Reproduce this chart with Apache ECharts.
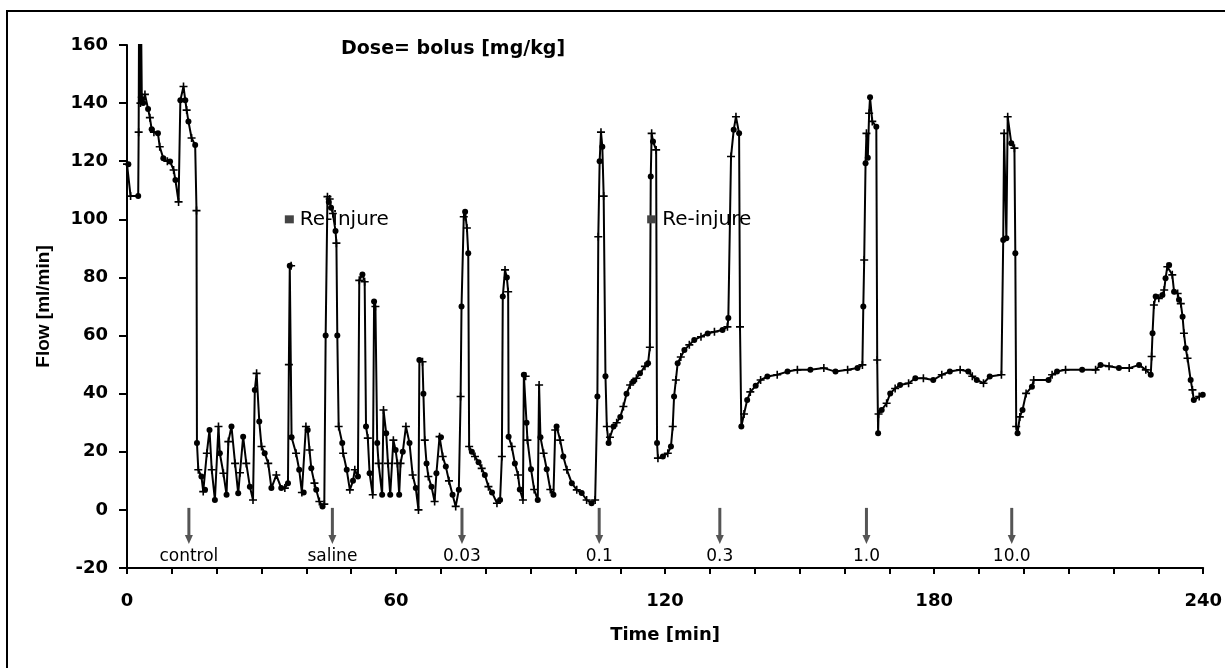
<!DOCTYPE html>
<html>
<head>
<meta charset="utf-8">
<script src="https://cdn.jsdelivr.net/npm/echarts@6/dist/echarts.min.js"></script>
<style>
html,body{margin:0;padding:0;background:#fff;}
#chart{width:1225px;height:668px;}
</style>
</head>
<body>
<div id="chart"></div>
<script>
// ---- Data ----
const times = [
0,0.3,0.8,2.5,2.6,2.7,3.0,3.1,3.3,3.6,4.0,4.7,5.1,5.5,6.0,6.9,7.3,8.1,9.0,9.6,10.4,10.8,11.5,11.9,12.6,13.0,13.3,13.7,14.4,15.2,15.5,15.6,15.9,16.6,17.0,17.4,17.8,18.4,18.9,19.6,20.4,20.7,21.5,22.2,22.6,23.3,24.1,24.8,25.2,25.9,26.6,27.4,28.1,28.5,28.9,29.5,30.0,30.7,31.5,32.2,33.3,34.4,35.2,35.9,36.1,36.3,36.6,36.7,37.7,38.4,39.0,39.4,39.9,40.3,40.7,41.1,41.8,42.2,42.9,43.6,44.0,44.3,44.7,45.0,45.2,45.5,45.9,46.5,46.7,46.9,47.2,48.0,48.2,49.0,49.7,50.4,50.8,51.5,51.8,52.5,53.0,53.3,53.7,54.1,54.8,55.1,55.4,55.8,56.1,56.9,57.2,57.8,58.2,58.7,59.4,59.9,60.3,60.7,61.0,61.5,62.2,63.0,63.7,64.4,65.0,65.2,65.9,66.1,66.4,66.8,67.2,67.9,68.6,69.0,69.7,70.0,70.4,71.1,71.8,72.6,73.3,74.0,74.4,74.6,75.1,75.4,75.8,76.1,76.3,76.9,77.6,78.4,79.1,79.8,80.6,81.4,82.5,83.2,83.6,83.8,84.3,84.7,85.0,85.1,85.8,86.5,87.2,87.6,88.3,88.5,88.9,89.1,89.3,90.1,90.8,91.6,91.9,92.2,92.9,93.6,94.4,95.1,95.5,95.8,96.6,97.3,98.1,99.2,100.3,101.4,102.5,103.6,104.4,104.9,105.1,105.4,105.7,106.0,106.3,106.7,107.0,107.4,107.7,108.5,109.2,110.0,110.7,111.4,112.2,112.9,113.6,114.4,115.5,116.2,116.6,116.8,117.0,117.3,118.0,118.2,118.4,119.5,120.6,121.3,121.7,122.0,122.4,122.8,123.5,124.3,125.4,126.5,128.0,129.5,131.0,132.8,133.9,134.1,134.7,135.3,135.8,136.5,136.7,137.0,137.6,138.3,139.0,140.2,141.3,142.8,145.0,147.3,149.5,152.4,155.4,158.0,160.7,162.9,164.0,164.2,164.4,164.7,164.9,165.2,165.5,165.7,166.2,167.1,167.3,167.5,167.6,168.3,169.4,170.2,171.3,172.4,174.3,175.8,177.6,179.8,181.7,183.5,185.8,187.6,188.5,189.5,191.0,192.4,195.0,195.4,195.6,196.1,196.4,197.2,197.9,198.1,198.3,198.6,199.1,199.7,200.5,201.8,202.2,205.5,206.3,207.4,209.3,213.0,216.0,217.1,219.0,221.2,223.5,225.7,227.2,228.3,228.5,228.7,229.0,229.4,230.1,230.9,231.3,231.6,232.0,232.4,233.1,233.5,234.3,234.6,235.0,235.4,235.7,236.1,236.5,237.2,237.6,237.9,239.1,239.9
];
const flows = [
119,119,108,108,130,175,140,175,142,140,143,138,135,131,130,129.6,125,121,120,119.9,117,113.5,106,141,145.7,141,137.6,133.7,128,125.6,103,23,13.8,11.5,6.3,6.9,19.5,27.5,13.8,3.4,28.7,19.5,12.6,5.2,23.5,28.7,16,5.7,12.8,25.2,16,8,3.4,41.3,47,30.4,21.8,19.5,16,7.5,12,7.5,7.5,9.2,50,84,84,25,19.5,13.8,6,6,28.7,27.5,20.6,14.3,9.2,6.9,2.9,1.2,2,60,107.8,106,107,104,102,96,91.8,60,28.7,23,19.5,13.8,6.9,10,13.8,11.5,79,81,78.5,28.7,24.7,12.6,5.2,71.7,70,23,16,5.2,34.4,26.4,16,5.2,24,20.6,16,5.2,16,20,28.7,23,12,7.5,0,51.6,51,40,24,16,11.5,8,2.9,12.6,25.2,25,18.4,14.9,10,5.2,1.2,6.9,39,70,100.9,102.6,97,88.3,21.8,20,18.4,16.4,14.3,12,8,6,2.3,3.4,18.4,73.4,82.6,80,75.1,25.2,21.8,16,12,7,3.4,46.5,46,30,24,14,7,3.4,43,25,19.5,14,7,5.2,27.5,28.7,24,18.4,13.8,9.2,6.9,5.8,3.4,2.3,3.4,39,94,120,130,125,108,46,28.7,23,25,28.7,30,32,35.6,40,43,44.2,45.3,47,49.4,50.5,56,114.7,129.6,126.8,123.9,23,17.8,18.4,19.5,21.8,28.7,39,44.7,50.5,52.6,55,56.8,58.5,59.6,60.7,61.3,61.9,63,66,121.6,130.8,135.3,129.6,63,28.7,33,37.8,40.6,42.7,44.7,45.9,46.5,47.6,48.2,48.2,48.8,47.6,48.2,48.8,49.9,70,86,119.3,129.6,121.2,136.5,142,133.7,131.9,51.6,26.4,33,34.4,36.7,40.1,41.8,43,43.6,45.3,45.3,44.7,46.5,47.6,48.2,47.6,46,44.7,43.6,45.9,46.5,92.9,129.6,93.5,135.3,126.2,124.5,88.3,28.7,26.4,32,34.4,40.1,42.4,44.7,44.7,46.5,47.6,48.2,48.2,48.2,49.9,49.4,48.8,48.8,49.9,48.2,46.5,52.8,60.8,70.5,73.4,72.8,74,75.7,79.7,83.7,84.3,80.9,75.1,74.5,72.3,71,66.5,60.8,55.6,52.2,44.7,41.3,37.8,39,39.6
];
// dose arrows (time of bolus) and their labels
const doseTimes = [13.8, 45.8, 74.7, 105.3, 132.2, 164.9, 197.3];
const doseLabels = ['control', 'saline', '0.03', '0.1', '0.3', '1.0', '10.0'];
// re-injure annotations
const reinjureTimes = [36.2, 117.0];
const reinjureFlows = [100, 100];
const reinjureLabel = 'Re-injure';
// axis ticks
const xLabeledTicks = [0, 60, 120, 180, 240];

const chart = echarts.init(document.getElementById('chart'), null, {renderer: 'canvas'});
const plusPath = 'path://M4,0H6V4H10V6H6V10H4V6H0V4H4Z';
const BOLD = 'DejaVu Sans';

const option = {
  animation: false,
  backgroundColor: '#fff',
  title: {
    text: 'Dose= bolus [mg/kg]',
    left: 336, top: 35,
    textStyle: {fontFamily: BOLD, fontWeight: 'bold', fontSize: 19, color: '#000'}
  },
  graphic: [{
    type: 'rect', silent: true, z: 100,
    shape: {x: 7, y: 11, width: 1400, height: 900},
    style: {fill: 'none', stroke: '#000', lineWidth: 2}
  }],
  grid: {left: 127, right: 18, top: 45, bottom: 100, containLabel: false},
  xAxis: {
    type: 'value', min: 0, max: 240, interval: 10,
    name: 'Time [min]', nameLocation: 'middle', nameGap: 58,
    nameTextStyle: {fontFamily: BOLD, fontWeight: 'bold', fontSize: 18, color: '#000'},
    axisLine: {onZero: false, lineStyle: {color: '#000', width: 2}},
    axisTick: {length: 6, lineStyle: {color: '#000', width: 2}},
    axisLabel: {
      margin: 24, fontFamily: BOLD, fontWeight: 'bold', fontSize: 18, color: '#000',
      formatter: v => (xLabeledTicks.indexOf(v) >= 0 ? String(v) : '')
    },
    splitLine: {show: false}
  },
  yAxis: {
    type: 'value', min: -20, max: 160, interval: 20,
    name: 'Flow [ml/min]', nameLocation: 'middle', nameGap: 74, nameRotate: 90,
    nameTextStyle: {fontFamily: 'Liberation Sans', fontWeight: 'bold', fontSize: 19, color: '#000'},
    axisLine: {show: true, lineStyle: {color: '#000', width: 2}},
    axisTick: {show: true, length: 8, lineStyle: {color: '#000', width: 2}},
    axisLabel: {margin: 19, fontFamily: BOLD, fontWeight: 'bold', fontSize: 18, color: '#000'},
    splitLine: {show: false}
  },
  series: [
    {
      type: 'line',
      data: times.map((t, i) => [t, flows[i]]),
      showAllSymbol: true,
      symbol: (v, p) => (p.dataIndex % 2 ? 'circle' : plusPath),
      symbolSize: (v, p) => (p.dataIndex % 2 ? 6 : 8),
      lineStyle: {color: '#000', width: 2},
      itemStyle: {color: '#000', borderWidth: 0},
      clip: true,
      z: 3
    },
    {
      type: 'scatter',
      data: reinjureTimes.map((t, i) => [t, reinjureFlows[i]]),
      symbol: 'rect', symbolSize: [9, 8],
      itemStyle: {color: '#444', opacity: 1},
      label: {
        show: true, position: 'right', distance: 6,
        formatter: reinjureLabel,
        fontFamily: 'DejaVu Sans', fontSize: 20, color: '#000', opacity: 1
      },
      z: 4
    },
    {
      type: 'custom',
      data: doseTimes.map((t, i) => [t, 0, doseLabels[i]]),
      clip: false,
      z: 5,
      renderItem: function (params, api) {
        const p = api.coord([api.value(0), 0]);
        const x = p[0], y0 = p[1];
        return {
          type: 'group',
          children: [
            {type: 'line', shape: {x1: x, y1: y0 - 2, x2: x, y2: y0 + 27},
             style: {stroke: '#555', lineWidth: 3}},
            {type: 'polygon', shape: {points: [[x - 4, y0 + 25], [x + 4, y0 + 25], [x, y0 + 34]]},
             style: {fill: '#555'}},
            {type: 'text', style: {
              text: api.value(2), x: x, y: y0 + 47,
              align: 'center', verticalAlign: 'middle',
              font: '17px "DejaVu Sans"', fill: '#000'
            }}
          ]
        };
      }
    }
  ]
};
chart.setOption(option);
</script>
</body>
</html>
